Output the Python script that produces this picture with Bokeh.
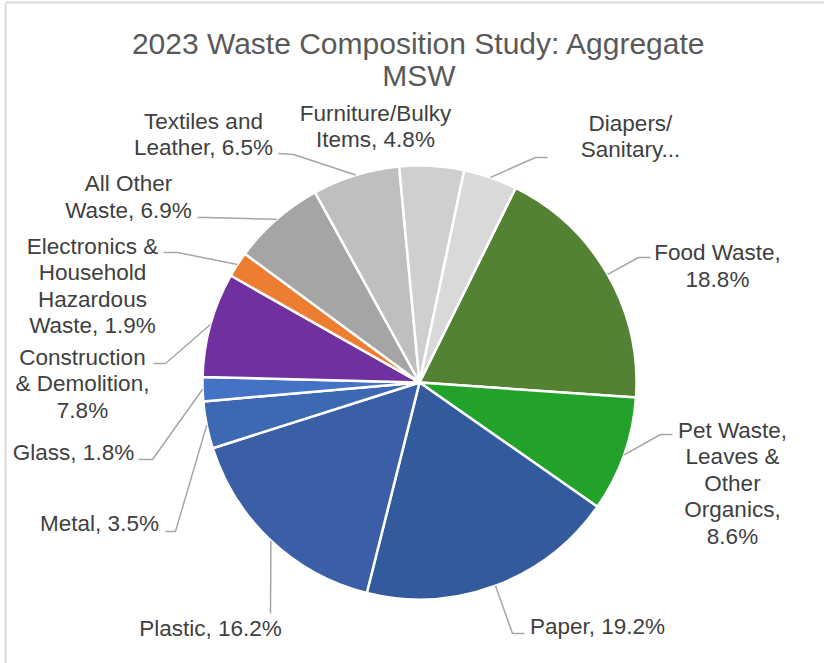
import numpy as np
from bokeh.plotting import figure
from bokeh.models import Range1d, ColumnDataSource
from bokeh.core.properties import value
from bokeh.embed import file_html
from bokeh.resources import INLINE

# ---- data (clockwise order as drawn) ----
categories = ["Food Waste", "Pet Waste, Leaves & Other Organics", "Paper", "Plastic",
              "Metal", "Glass", "Construction & Demolition",
              "Electronics & Household Hazardous Waste", "All Other Waste",
              "Textiles and Leather", "Furniture/Bulky Items", "Diapers/ Sanitary..."]
shares = [18.8, 8.6, 19.2, 16.2, 3.5, 1.8, 7.8, 1.9, 6.9, 6.5, 4.8, 4.0]
label_texts = ["Food Waste,\n18.8%", "Pet Waste,\nLeaves &\nOther\nOrganics,\n8.6%",
               "Paper, 19.2%", "Plastic, 16.2%", "Metal, 3.5%", "Glass, 1.8%",
               "Construction\n& Demolition,\n7.8%", "Electronics &\nHousehold\nHazardous\nWaste, 1.9%",
               "All Other\nWaste, 6.9%", "Textiles and\nLeather, 6.5%", "Furniture/Bulky\nItems, 4.8%",
               "Diapers/\nSanitary..."]
colors = ["#548235", "#22A22B", "#335A9C", "#3A5FA6", "#3D68B2", "#4472C4",
          "#7030A0", "#ED7D31", "#A5A5A5", "#BFBFBF", "#D0CECE", "#D9D9D9"]
title_text = "2023 Waste Composition Study: Aggregate\nMSW"

# ---- layout (screen pixels, y downward) ----
W, H = 824, 663
CX, CY, R = 419, 382, 217
FIRST_ANGLE = 26.3  # degrees clockwise from 12 o'clock
label_pos = [(717, 265.5), (732, 482.5), (597, 626), (210, 628), (99, 523), (73, 452),
             (82, 383), (92, 285.5), (128, 196.5), (203, 134), (375, 126), (630, 136)]
leader_pts = [[(650, 257), (638, 257)], [(672, 434), (660, 434)], [(524, 633), (512, 633)],
              [(270, 613)], [(165, 531), (175, 531)], [(138, 459), (152, 459)],
              [(153, 363), (165, 363)], [(163, 252), (177, 252)], [(197, 217), (205, 217)],
              [(278, 153), (293, 154)], None, [(547, 157), (535, 157)]]

sh = np.array(shares, dtype=float)
frac = sh / sh.sum()
cum = np.concatenate([[0], np.cumsum(frac)]) * 360.0 + FIRST_ANGLE
theta1, theta2 = cum[:-1], cum[1:]
mid = (theta1 + theta2) / 2
# math angles (counterclockwise from +x)
start = np.radians(90 - theta2)
end = np.radians(90 - theta1)

p = figure(width=W, height=H, x_range=Range1d(0, W), y_range=Range1d(0, H),
           x_axis_type=None, y_axis_type=None, min_border=0, toolbar_location=None,
           output_backend="svg", outline_line_color=None, background_fill_color="white")
p.grid.visible = False

# frame lines
p.line(x=[5, 5], y=[H - 3, 0], line_color="#D9D9D9", line_width=2)
p.line(x=[5, W], y=[H - 2, H - 2], line_color="#D9D9D9", line_width=2)

src = ColumnDataSource(dict(cat=categories, share=shares, start=start, end=end, color=colors))
p.wedge(x=CX, y=H - CY, radius=R, start_angle="start", end_angle="end", source=src,
        fill_color="color", line_color="white", line_width=2.5, direction="anticlock")

# leader lines
for i, pts in enumerate(leader_pts):
    if pts is None:
        continue
    ex = CX + R * np.sin(np.radians(mid[i]))
    ey = CY - R * np.cos(np.radians(mid[i]))
    xs = [q[0] for q in pts] + [ex]
    ys = [H - q[1] for q in pts] + [H - ey]
    p.line(xs, ys, line_color="#A6A6A6", line_width=1.5)

lsrc = ColumnDataSource(dict(x=[q[0] for q in label_pos], y=[H - q[1] for q in label_pos],
                             t=label_texts))
p.text(x="x", y="y", text="t", source=lsrc, text_align="center", text_baseline="middle",
       text_font=value("Liberation Sans"), text_font_size="22.5px", text_color="#404040",
       text_line_height=1.06)

p.text(x=[418.5], y=[H - 59], text=[title_text], text_align="center", text_baseline="middle",
       text_font=value("Liberation Sans"), text_font_size="30px", text_color="#595959",
       text_line_height=0.95)

open("out.html", "w").write(file_html(p, INLINE))
